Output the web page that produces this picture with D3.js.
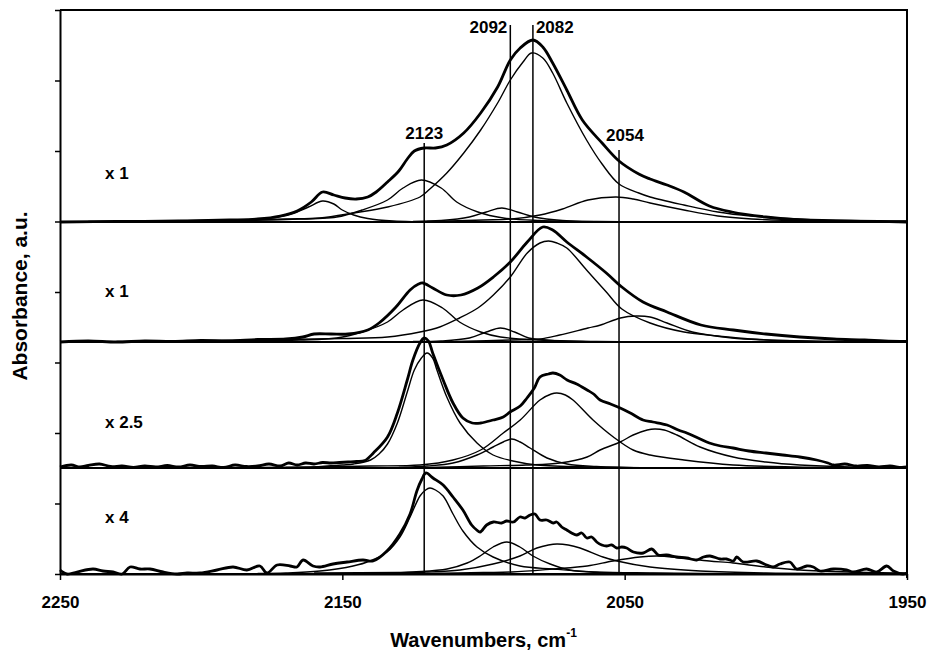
<!DOCTYPE html>
<html><head><meta charset="utf-8">
<script src="https://cdn.jsdelivr.net/npm/d3@7"></script>
<style>body{margin:0;background:#fff}svg{display:block}text{font-family:"Liberation Sans",Arial,sans-serif;font-weight:bold;fill:#000}</style>
</head><body><div id="chart"></div>
<script>
// x ticks and annotations
const xTicks = [2250, 2150, 2050, 1950];
const peakLines = [2121, 2090.5, 2082.5, 2052];
const peakLabels = ["2123", "2092", "2082", "2054"];
const peakTops = [431, 549, 549, 424];
const panelLabels = ["x 1", "x 1", "x 2.5", "x 4"];
const panelOffsets = [352, 232, 106, 0];

// Panel 1 (top)
const p1Total = [[2250,0],[2230,0.5],[2208,1],[2190,2],[2180,3],[2172,6],[2166,11],[2161,20],[2157,30],[2153,27],[2149,24],[2145,23],[2141,25],[2138,30],[2134,40],[2130,51],[2127,63],[2124.5,71],[2121,74],[2117,74],[2113,77],[2107,89],[2101,109],[2095,135],[2090.5,162],[2087,174],[2082.5,182],[2079,175],[2075.5,159],[2070.5,132],[2065,102],[2058,79],[2052,61],[2045,48],[2041,43],[2035,37],[2029,30],[2020,16],[2012,10],[2000,5],[1988,2],[1976,1],[1960,0.5],[1950,0]];
const p1c2155 = [[2195,1],[2185,2],[2175,4],[2168,8],[2162,15],[2157,21],[2153,18],[2150,12],[2146,7],[2141,3.5],[2132,1],[2115,0]];
const p1c2123 = [[2200,1],[2170,2.5],[2152,5],[2143,12],[2134,22],[2128.5,34],[2122,42],[2115,34],[2109.5,20],[2102,10],[2093,4],[2080,1.5],[2060,0.5],[2040,0]];
const p1c2092 = [[2125,0.5],[2115,1.5],[2105,5],[2099,10],[2093.5,14],[2088,10],[2082,5],[2072,1.5],[2055,0]];
const p1c2082 = [[2240,0.5],[2200,1.5],[2170,3],[2158,4],[2146,9],[2134,15],[2122.5,25],[2119,33],[2113,49],[2107,69],[2101,92],[2095,119],[2090.5,142],[2086,160],[2083,169],[2079,164],[2075.5,149],[2070.5,119],[2063.5,82],[2058,58],[2052,38],[2045,29],[2041,25],[2029,17],[2017,10],[2005.5,6],[1988,3],[1970,1.5],[1950,1]];
const p1c2054 = [[2120,0.5],[2100,2],[2090,3],[2080,7],[2072,13],[2063,22],[2053,25],[2047,23],[2041,19],[2029,12],[2017,6],[2005,3],[1985,1],[1950,0]];

// Panel 2
const p2Total = [[2250,0],[2240,1],[2230,0],[2220,1],[2210,0.5],[2200,1.5],[2190,1],[2180,2.5],[2170,3],[2164,5],[2160,8],[2154,8],[2148,8],[2141,12],[2137,19],[2131,35],[2126,52],[2123,58],[2121.5,59],[2118,54],[2113,47],[2108,47],[2102,54],[2096.5,65],[2090.5,80],[2084.5,100],[2079,115],[2075.5,112],[2070.5,100],[2063.5,85],[2056.5,69],[2051,55],[2043.5,40],[2035,30],[2023,17],[2011.5,12],[2000,8],[1988,5],[1976,3],[1965,2],[1958,1],[1950,0.5]];
const p2c2123 = [[2190,1],[2165,2],[2152,4],[2143,10],[2134,20],[2128.5,32],[2121.5,42],[2114.5,34],[2108.5,20],[2101,10],[2094,5],[2080,2],[2060,0.5],[2040,0]];
const p2c2092 = [[2125,0.5],[2115,1],[2105,4],[2099,10],[2094,14],[2089,10],[2084,4],[2072,1],[2060,0]];
const p2c2082 = [[2230,0.5],[2180,2],[2150,3.5],[2134,5],[2122.5,10],[2115.5,15],[2108.5,24],[2102,34],[2096.5,47],[2090.5,65],[2084.5,89],[2080,99],[2077,101],[2074,99],[2070.5,94],[2063.5,72],[2056.5,50],[2051,33],[2041,19],[2029,10],[2017,6],[2005.5,3],[1985,1],[1950,0.3]];
const p2c2054 = [[2110,0.5],[2090,2],[2080,3],[2073,7],[2063,14],[2058.5,17],[2051.5,24],[2046,26],[2041,25],[2035,19],[2026,10],[2012,4],[2000,2],[1980,0.5],[1950,0]];

// Panel 3 (x 2.5)
const p3Total = [[2250,1],[2246,3],[2243,1],[2240,2.5],[2236,4],[2232,1.5],[2228,2],[2224,0.5],[2220,2],[2216,1],[2212,2.5],[2208,1],[2204,3],[2200,1.5],[2196,2],[2192,0.5],[2188,3],[2184,1.5],[2180,2],[2176,4],[2172,2],[2169,5],[2166,3],[2163,5],[2160,4],[2157,5.5],[2154,5],[2151,5.5],[2148,6],[2145,6.5],[2142,7.5],[2139,15],[2134,31],[2130.5,55],[2127,88],[2125,108],[2122.5,125],[2121,130],[2119.5,127],[2118,115],[2114.3,88],[2110.8,65],[2107.3,50],[2104,45],[2101,45],[2096.6,48],[2093,51],[2090.6,56],[2087,62],[2084.6,70],[2082,80],[2080,91],[2077,94],[2075.4,95],[2073,93],[2070.4,88],[2067,84],[2063.3,78],[2061,74],[2058.7,68],[2055,64],[2051.6,60],[2048,55],[2043.5,48],[2040,46],[2035,43],[2031,38],[2028,35],[2024,30],[2020,25],[2016,22],[2011.6,20],[2006,17],[2000,15],[1994,13],[1988,11],[1982,8],[1978,5],[1976,3],[1972,4],[1968,2],[1964,2.5],[1960,1],[1956,2],[1952,0.5],[1950,1]];
const p3c2123 = [[2170,0.5],[2160,1],[2150,3],[2146,4],[2140,8],[2137,14],[2134,24],[2130.5,45],[2127,76],[2124.5,98],[2122,110],[2120,115],[2118,110],[2116.5,98],[2113,71],[2108.3,45],[2102.3,25],[2096.6,13],[2089.6,7],[2081,3],[2060,1],[2030,0]];
const p3c2092 = [[2130,0.5],[2120,2],[2110.8,5],[2102.3,13],[2096.6,21],[2093,26],[2090,29],[2087,26],[2083.5,20],[2077.5,10],[2070.4,4],[2060,1.5],[2040,0]];
const p3c2082 = [[2180,0.5],[2160,1],[2140,2],[2122.5,3],[2110.8,8],[2101,18],[2093,35],[2087,48],[2080,68],[2076,74],[2074,75],[2071,73],[2068.3,68],[2061.2,48],[2054,31],[2047,18],[2041,13],[2029,8],[2011.6,3],[1990,1],[1950,0]];
const p3c2040 = [[2120,0.5],[2100,2],[2085,3],[2072.9,5],[2063.3,11],[2058.7,18],[2051.6,26],[2047,33],[2042,38],[2039.3,39],[2036,38],[2031.5,33],[2023.3,21],[2011.6,11],[2000,6],[1988,3],[1970,1],[1950,0.5]];

// Panel 4 (x 4)
const p4Total = [[2250,4],[2247.5,0],[2244,2],[2238.3,5],[2234.8,3],[2231.2,2],[2228,0],[2225.2,7],[2221.7,5],[2218.1,5],[2213.5,2],[2208.6,0],[2205,1],[2200.4,1],[2194.4,4],[2188.7,7],[2183.8,4],[2179.2,8],[2176.7,1],[2173.1,9],[2168.5,8],[2166.1,7],[2163.9,14],[2160.4,8],[2157.9,7],[2153.3,10],[2148.3,12],[2142.7,14],[2139.1,13],[2134.2,23],[2129.6,40],[2126,60],[2123.6,83],[2121.8,95],[2120.4,101],[2117.9,96],[2114.3,89],[2110.8,77],[2107.3,64],[2104.2,49],[2102.4,44],[2101.2,42],[2098.9,49],[2096.5,52],[2093.6,51],[2091.8,53],[2089.4,52],[2087.1,57],[2085.3,56],[2083.5,59],[2081.8,60],[2080,54],[2077.6,54],[2075.3,51],[2074.1,52],[2072.3,47],[2070.5,44],[2068.8,41],[2067,39],[2065.2,41],[2063.4,36],[2061.7,37],[2059.9,32],[2058.1,29],[2056.4,28],[2054.6,29],[2052.8,26],[2051,27],[2049.3,26],[2046.9,22],[2043.4,21],[2040.4,25],[2038.1,19],[2035.1,19],[2031.6,17],[2028,16],[2024.5,14],[2022.1,17],[2019.8,18],[2016.2,15],[2013.9,15],[2011.5,13],[2010.3,17],[2008,12],[2003.2,13],[1999.7,9],[1997.4,7],[1995,10],[1991.5,12],[1989.1,5],[1985.5,8],[1983.2,7],[1980.8,3],[1976.1,5],[1971.4,4],[1969,2],[1964.3,5],[1960.7,2],[1957.2,8],[1954.8,3],[1951.4,0],[1950,1]];
const p4c2123 = [[2180,0.5],[2170,1],[2157.9,3],[2146.2,8],[2140.2,13],[2134.2,22],[2129.6,37],[2126,57],[2122.5,78],[2120.5,84],[2119,86],[2117,84],[2114.3,78],[2110.8,60],[2107.3,43],[2102.3,27],[2096.6,17],[2087.1,8],[2075.4,5],[2060,2],[2040,1],[2000,0]];
const p4c2092 = [[2135,0.5],[2125,2],[2112.9,5],[2105.8,11],[2101.2,18],[2096.6,27],[2091.7,32],[2087.1,27],[2082.5,18],[2076.4,10],[2069.4,4],[2060,1.5],[2040,0.5],[2020,0]];
const p4c2075 = [[2160,1],[2130,1.5],[2120,2],[2108.3,4],[2096.6,10],[2087.1,18],[2081.1,26],[2077,29],[2074,30],[2070,29],[2065.8,26],[2057.7,17],[2052.7,13],[2041,7],[2023.3,3],[2000,1],[1970,0.5],[1950,0]];
const p4c2040 = [[2120,0.5],[2100,1.5],[2090,2],[2075.4,5],[2063.3,8],[2054.1,13],[2044.6,17],[2038.5,18],[2030,16],[2020,13],[2011.6,11],[2000,7],[1988,4],[1970,2],[1950,1]];

const panels = [
  {offset: panelOffsets[0], label: panelLabels[0], lift: 43, total: p1Total, comps: [p1c2155, p1c2123, p1c2092, p1c2082, p1c2054]},
  {offset: panelOffsets[1], label: panelLabels[1], lift: 45, total: p2Total, comps: [p2c2123, p2c2092, p2c2082, p2c2054]},
  {offset: panelOffsets[2], label: panelLabels[2], lift: 40, total: p3Total, comps: [p3c2123, p3c2092, p3c2082, p3c2040]},
  {offset: panelOffsets[3], label: panelLabels[3], lift: 51, total: p4Total, comps: [p4c2123, p4c2092, p4c2075, p4c2040]}
];

const W = 928, H = 651;
const m = {left: 60, right: 21, top: 10, bottom: 77};
const svg = d3.select("#chart").append("svg").attr("width", W).attr("height", H);
const x = d3.scaleLinear().domain([2250, 1950]).range([m.left, W - m.right]);
const y = d3.scaleLinear().domain([0, 564]).range([H - m.bottom, m.top]);

const g = svg.append("g");

// baselines of each stacked spectrum
panels.forEach(p => {
  g.append("line").attr("x1", x(2250)).attr("x2", x(1950))
    .attr("y1", y(p.offset)).attr("y2", y(p.offset))
    .attr("stroke", "#000").attr("stroke-width", 2);
});

panels.forEach(p => {
  const line = d3.line().x(d => x(d[0])).y(d => y(p.offset + Math.max(0, d[1]))).curve(d3.curveCatmullRom.alpha(0.5));
  p.comps.forEach(c => {
    g.append("path").attr("d", line(c)).attr("fill", "none").attr("stroke", "#000").attr("stroke-width", 1.4);
  });
  g.append("path").attr("d", line(p.total)).attr("fill", "none").attr("stroke", "#000").attr("stroke-width", 2.8).attr("stroke-linejoin", "round");
  g.append("text").attr("x", 105).attr("y", y(p.offset + p.lift)).attr("font-size", 17).text(p.label);
});

// vertical peak lines and labels
peakLines.forEach((w, i) => {
  g.append("line").attr("x1", x(w)).attr("x2", x(w)).attr("y1", y(peakTops[i])).attr("y2", y(0))
    .attr("stroke", "#000").attr("stroke-width", 1.5);
});
const lab = g.append("g").attr("font-size", 17);
lab.append("text").attr("x", x(peakLines[0])).attr("y", y(peakTops[0]) - 4).attr("text-anchor", "middle").text(peakLabels[0]);
lab.append("text").attr("x", x(peakLines[1]) - 3).attr("y", y(peakTops[1]) + 8).attr("text-anchor", "end").text(peakLabels[1]);
lab.append("text").attr("x", x(peakLines[2]) + 3).attr("y", y(peakTops[2]) + 8).attr("text-anchor", "start").text(peakLabels[2]);
lab.append("text").attr("x", x(peakLines[3]) + 6).attr("y", y(peakTops[3]) - 9).attr("text-anchor", "middle").text(peakLabels[3]);

// frame
svg.append("path").attr("d", `M${x(2250)},${y(564)}H${x(1950)}V${y(0) + 4}`)
  .attr("fill", "none").attr("stroke", "#000").attr("stroke-width", 2);

// axes
const yAxis = svg.append("g").attr("transform", `translate(${m.left},0)`)
  .call(d3.axisLeft(y).tickValues(d3.range(0, 565, 70.5)).tickSize(5).tickSizeOuter(0).tickFormat(""));
const xAxis = svg.append("g").attr("transform", `translate(0,${H - m.bottom})`)
  .call(d3.axisBottom(x).tickValues(xTicks).tickSize(6).tickSizeOuter(0).tickPadding(16).tickFormat(d3.format("d")));
[yAxis, xAxis].forEach(a => {
  a.select(".domain").attr("stroke-width", 2);
  a.selectAll(".tick line").attr("stroke-width", 1.5);
  a.selectAll("text").attr("font-size", 17).attr("font-family", "'Liberation Sans', Arial, sans-serif").attr("font-weight", "bold");
});

// axis titles
svg.append("text").attr("transform", `translate(27,${(y(0) + y(564)) / 2 + 4}) rotate(-90)`)
  .attr("text-anchor", "middle").attr("font-size", 21).text("Absorbance, a.u.");
const xt = svg.append("text").attr("x", (x(2250) + x(1950)) / 2).attr("y", 647)
  .attr("text-anchor", "middle").attr("font-size", 20);
xt.append("tspan").text("Wavenumbers, cm");
xt.append("tspan").attr("dy", -10).attr("font-size", 12).text("-1");
</script></body></html>
